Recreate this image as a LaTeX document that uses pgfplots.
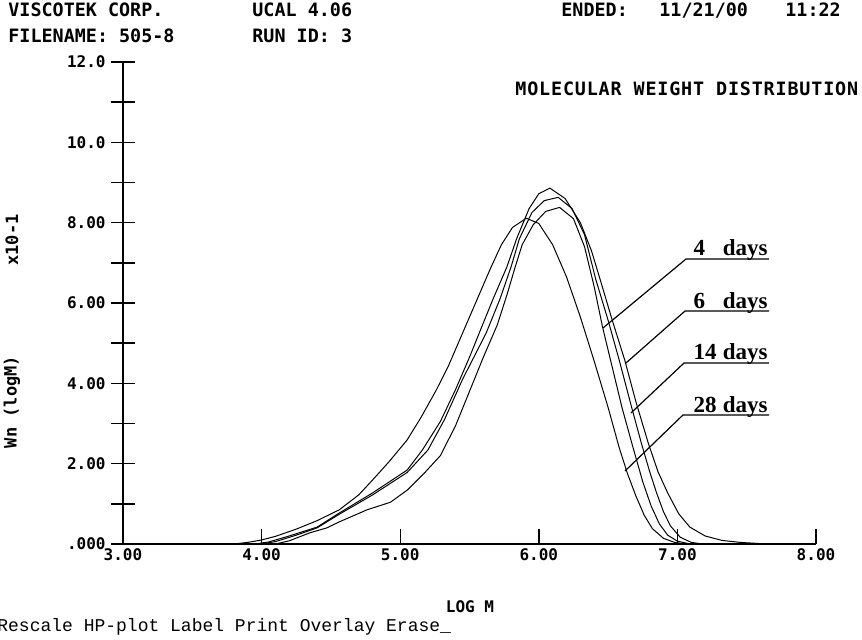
\documentclass[border=0pt]{standalone}
\usepackage{fontspec}
\setmainfont{Liberation Serif}
\newfontfamily\pixfont{DejaVu Sans Mono}
\newfontfamily\termfont{Liberation Mono}
\usepackage{pgfplots}
\pgfplotsset{compat=1.18}

\newcommand{\hdfont}{\pixfont\bfseries\fontsize{9.2}{11}\selectfont}
\newcommand{\tkfont}{\pixfont\bfseries\fontsize{8}{9}\selectfont}
\newcommand{\dayfont}{\rmfamily\bfseries\fontsize{11.5}{13}\selectfont}

\begin{document}
\begin{tikzpicture}
\begin{axis}[
  at={(0pt,0pt)}, anchor=south west,
  scale only axis, width=346.5pt, height=241pt,
  xmin=3, xmax=8, ymin=0, ymax=12,
  axis lines=left, axis line style={-, line width=0.7pt},
  xtick={3,4,5,6,7,8}, xticklabels={3.00,4.00,5.00,6.00,7.00,8.00},
  ytick={0,1,...,12}, yticklabels={.000,,2.00,,4.00,,6.00,,8.00,,10.0,,12.0},
  major tick length=12pt,
  ytick align=center, xtick align=inside,
  xtick style={/pgfplots/major tick length=7.5pt},
  tick style={black, line width=0.7pt},
  tick label style={font=\tkfont},
  yticklabel style={anchor=east, inner sep=0pt, xshift=-2.5pt},
  xticklabel style={anchor=north, inner sep=0pt, yshift=-2pt},
  clip=false,
]
% 28 days
\addplot[black, line width=0.5pt] coordinates {
 (3.80,0.00) (3.90,0.04) (4.00,0.10) (4.10,0.19) (4.25,0.37) (4.40,0.58)
 (4.56,0.85) (4.70,1.22) (4.80,1.59) (4.92,2.05) (5.05,2.59) (5.15,3.15)
 (5.26,3.83) (5.35,4.45) (5.45,5.25) (5.55,6.05) (5.65,6.85) (5.73,7.45)
 (5.81,7.88) (5.91,8.11) (6.00,7.98) (6.10,7.45) (6.20,6.65) (6.30,5.65)
 (6.40,4.55) (6.50,3.40) (6.58,2.40) (6.64,1.75) (6.70,1.20) (6.76,0.72)
 (6.82,0.38) (6.90,0.14) (6.98,0.04) (7.06,0.00)
};
% 6 days
\addplot[black, line width=0.5pt] coordinates {
 (3.95,0.00) (4.05,0.05) (4.20,0.20) (4.40,0.42) (4.56,0.77) (4.80,1.27)
 (5.05,1.84) (5.16,2.34) (5.29,3.05) (5.40,3.85) (5.50,4.65) (5.57,5.25)
 (5.67,6.10) (5.77,6.90) (5.84,7.60) (5.93,8.35) (6.00,8.72) (6.08,8.86)
 (6.19,8.60) (6.30,8.00) (6.38,7.30) (6.45,6.50) (6.53,5.57) (6.62,4.58)
 (6.70,3.55) (6.79,2.51) (6.86,1.80) (6.93,1.27) (7.01,0.75) (7.09,0.42)
 (7.20,0.20) (7.32,0.09) (7.45,0.04) (7.60,0.01) (7.75,0.00)
};
% 14 days
\addplot[black, line width=0.5pt] coordinates {
 (4.00,0.00) (4.10,0.06) (4.25,0.22) (4.40,0.40) (4.56,0.74) (4.80,1.22)
 (5.05,1.78) (5.20,2.34) (5.32,3.10) (5.45,4.10) (5.62,5.25) (5.72,6.10)
 (5.80,6.90) (5.86,7.60) (5.95,8.25) (6.04,8.55) (6.14,8.63) (6.24,8.35)
 (6.33,7.70) (6.41,6.60) (6.50,5.57) (6.58,4.58) (6.67,3.40) (6.74,2.51)
 (6.80,1.80) (6.85,1.27) (6.90,0.80) (6.95,0.45) (7.02,0.17) (7.10,0.04)
 (7.18,0.00)
};
% 4 days
\addplot[black, line width=0.5pt] coordinates {
 (4.10,0.00) (4.20,0.08) (4.35,0.28) (4.47,0.40) (4.56,0.55) (4.76,0.85)
 (4.93,1.04) (5.05,1.34) (5.17,1.75) (5.29,2.20) (5.40,2.95) (5.50,3.80)
 (5.60,4.65) (5.70,5.45) (5.77,6.20) (5.83,6.90) (5.88,7.45) (5.96,7.95)
 (6.05,8.28) (6.15,8.38) (6.25,8.10) (6.33,7.40) (6.40,6.40) (6.46,5.40)
 (6.53,4.40) (6.60,3.40) (6.68,2.40) (6.75,1.55) (6.81,0.95) (6.87,0.50)
 (6.93,0.22) (7.00,0.07) (7.08,0.01) (7.15,0.00)
};
% pointer lines and labels
\draw[line width=0.6pt] (axis cs:6.463,5.377) -- (axis cs:7.062,7.095) -- (axis cs:7.661,7.095);
\draw[line width=0.6pt] (axis cs:6.629,4.506) -- (axis cs:7.055,5.800) -- (axis cs:7.661,5.800);
\draw[line width=0.6pt] (axis cs:6.665,3.261) -- (axis cs:7.048,4.506) -- (axis cs:7.661,4.506);
\draw[line width=0.6pt] (axis cs:6.622,1.817) -- (axis cs:7.040,3.211) -- (axis cs:7.661,3.211);
\node[anchor=base east, inner sep=0pt, font=\dayfont] at (axis cs:7.654,7.170) {\makebox[37pt]{4\hfill days}};
\node[anchor=base east, inner sep=0pt, font=\dayfont] at (axis cs:7.654,5.875) {\makebox[37pt]{6\hfill days}};
\node[anchor=base east, inner sep=0pt, font=\dayfont] at (axis cs:7.654,4.581) {\makebox[37pt]{14\hfill days}};
\node[anchor=base east, inner sep=0pt, font=\dayfont] at (axis cs:7.654,3.286) {\makebox[37pt]{28\hfill days}};
\end{axis}
% header and labels
\node[anchor=base west, inner sep=0pt, font=\hdfont] at (-57.5pt,263.5pt) {VISCOTEK CORP.};
\node[anchor=base west, inner sep=0pt, font=\hdfont] at (64.5pt,263.5pt) {UCAL 4.06};
\node[anchor=base west, inner sep=0pt, font=\hdfont] at (219pt,263.5pt) {ENDED:};
\node[anchor=base west, inner sep=0pt, font=\hdfont] at (268pt,263.5pt) {11/21/00};
\node[anchor=base west, inner sep=0pt, font=\hdfont] at (331pt,263.5pt) {11:22};
\node[anchor=base west, inner sep=0pt, font=\hdfont] at (-57.5pt,250.5pt) {FILENAME: 505-8};
\node[anchor=base west, inner sep=0pt, font=\hdfont] at (64.5pt,250.5pt) {RUN ID: 3};
\node[anchor=base west, inner sep=0pt, font=\hdfont\addfontfeature{LetterSpace=4.5}] at (196pt,224pt) {MOLECULAR WEIGHT DISTRIBUTION};
\node[rotate=90, inner sep=0pt, font=\pixfont\bfseries\fontsize{8.5}{10}\selectfont] at (-55.5pt,71pt) {Wn (logM)};
\node[rotate=90, inner sep=0pt, font=\pixfont\bfseries\fontsize{8.5}{10}\selectfont] at (-55.5pt,152pt) {x10-1};
\node[inner sep=0pt, font=\pixfont\bfseries\fontsize{8}{10}\selectfont] at (173.5pt,-31.5pt) {LOG M};
\node[anchor=base west, inner sep=0pt, font=\termfont\fontsize{9}{10}\selectfont] at (-63pt,-44pt) {Rescale HP-plot Label Print Overlay Erase\_};
\pgfresetboundingbox
\path (-61.5pt,-48pt) rectangle (369.5pt,272pt);
\end{tikzpicture}
\end{document}
